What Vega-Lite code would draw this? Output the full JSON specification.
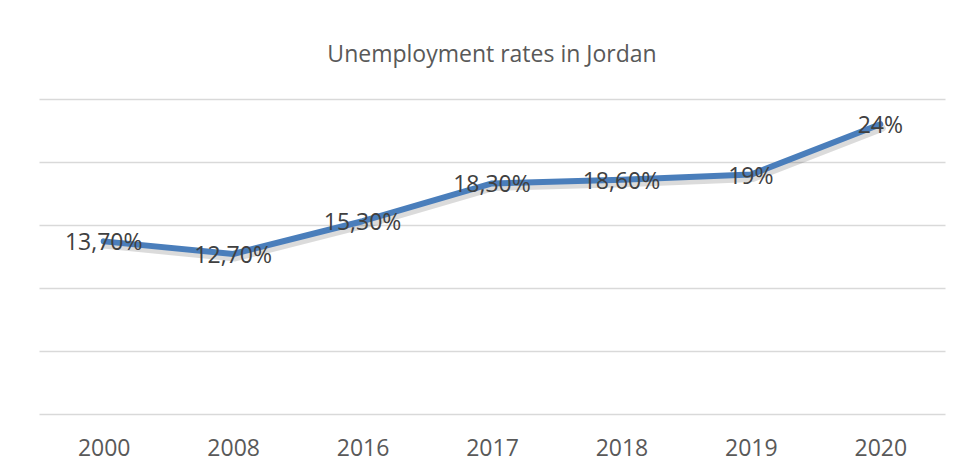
{
  "$schema": "https://vega.github.io/schema/vega-lite/v6.json",
  "width": 906,
  "height": 315,
  "autosize": {"type": "none"},
  "padding": {"left": 39, "top": 99, "right": 18, "bottom": 59},
  "background": "white",
  "config": {"view": {"stroke": null}},
  "title": {
    "text": "Unemployment rates in Jordan",
    "font": "Open Sans",
    "fontSize": 23,
    "fontWeight": "normal",
    "color": "#595959",
    "anchor": "middle",
    "baseline": "bottom",
    "offset": 9
  },
  "data": {
    "values": [
      {"year": "2000", "rate": 13.7, "label": "13,70%"},
      {"year": "2008", "rate": 12.7, "label": "12,70%"},
      {"year": "2016", "rate": 15.3, "label": "15,30%"},
      {"year": "2017", "rate": 18.3, "label": "18,30%"},
      {"year": "2018", "rate": 18.6, "label": "18,60%"},
      {"year": "2019", "rate": 19.0, "label": "19%"},
      {"year": "2020", "rate": 23.0, "label": "24%"}
    ]
  },
  "encoding": {
    "x": {
      "field": "year",
      "type": "ordinal",
      "scale": {"type": "point", "padding": 0.5},
      "axis": {
        "title": null,
        "labelAngle": 0,
        "ticks": false,
        "domain": false,
        "grid": false,
        "labelFont": "Open Sans",
        "labelFontSize": 23,
        "labelColor": "#595959",
        "labelPadding": 23
      }
    },
    "y": {
      "field": "rate",
      "type": "quantitative",
      "scale": {"domain": [0, 25], "nice": false},
      "axis": {
        "title": null,
        "labels": false,
        "ticks": false,
        "domain": false,
        "values": [0, 5, 10, 15, 20, 25],
        "grid": true,
        "gridColor": "#d9d9d9",
        "gridWidth": 1.3
      }
    }
  },
  "layer": [
    {
      "mark": {"type": "line", "color": "#000000", "opacity": 0.14, "strokeWidth": 7, "xOffset": 2, "yOffset": 4, "strokeCap": "round", "strokeJoin": "round"}
    },
    {
      "mark": {"type": "line", "color": "#4a7ebb", "strokeWidth": 6, "strokeCap": "round", "strokeJoin": "round"}
    },
    {
      "mark": {"type": "text", "font": "Open Sans", "fontSize": 23, "color": "#404040", "align": "center", "baseline": "middle", "dy": 2},
      "encoding": {"text": {"field": "label"}}
    }
  ]
}
